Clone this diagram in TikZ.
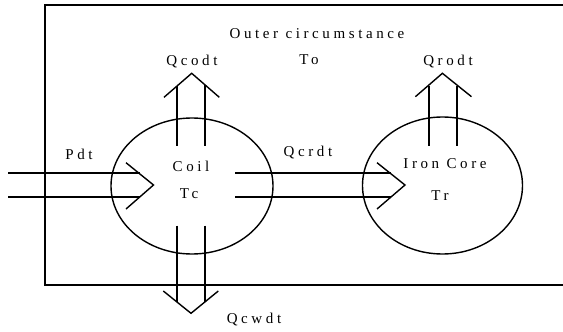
\documentclass[tikz,border=0pt]{standalone}
\usepackage{fontspec}
\setmainfont{Liberation Serif}[LetterSpace=24]
\usetikzlibrary{shapes.geometric}
\begin{document}
\begin{tikzpicture}[x=1pt,y=-1pt,
  ln/.style={line width=1.4pt, line join=miter},
  blob/.style={draw, ellipse, line width=1.4pt, inner sep=0pt},
  lbl/.style={inner sep=0pt, font=\fontsize{15}{17}\selectfont}]
\useasboundingbox[fill=white] (0,0) rectangle (563,332);
% outer box (open to the right)
\draw[ln] (575,5) -- (45,5) -- (45,285) -- (575,285);
% ellipses
\node[blob, minimum width=162pt, minimum height=136pt] (coil) at (192,186) {};
\node[blob, minimum width=160pt, minimum height=137pt] (core) at (442.5,185.5) {};
% labels
\node[lbl] (outer) at (317,34) {Outer circumstance};
\node[lbl] (to) at (309,60) {To};
\node[lbl] (qcodt) at (192,62) {Qcodt};
\node[lbl] (qrodt) at (448,62) {Qrodt};
\node[lbl] (pdt) at (79,154) {Pdt};
\node[lbl] (coiltxt) at (191,166) {Coil};
\node[lbl] (tc) at (189,194) {Tc};
\node[lbl] (qcrdt) at (308,153) {Qcrdt};
\node[lbl] (irontxt) at (445,164) {Iron Core};
\node[lbl] (tr) at (440,196) {Tr};
\node[lbl] (qcwdt) at (254,320) {Qcwdt};
% Pdt arrow
\coordinate (pa1) at (8,173);
\coordinate (pa2) at (8,197);
\draw[ln] (pa1) -- (139.5,173);
\draw[ln] (pa2) -- (139.5,197);
\draw[ln] (126,162.7) -- (153.5,185) -- (126,209);
% Qcrdt arrow
\draw[ln] (235,173) -- (390.5,173);
\draw[ln] (235,197) -- (390.5,197);
\draw[ln] (377,162.7) -- (405,185) -- (377,209);
% Qcodt arrow (up)
\draw[ln] (177,145.5) -- (177,86);
\draw[ln] (205,145.5) -- (205,85);
\draw[ln] (164,97.3) -- (191.7,73.3) -- (219.3,97.3);
% Qrodt arrow (up)
\draw[ln] (429,145.5) -- (429,85.5);
\draw[ln] (457,145.5) -- (457,85.5);
\draw[ln] (415.4,96.7) -- (442.4,73.3) -- (471.5,96.7);
% Qcwdt arrow (down)
\draw[ln] (177,225.5) -- (177,302);
\draw[ln] (205,225.5) -- (205,302);
\draw[ln] (163.3,291) -- (191,313.3) -- (218.3,291);
\end{tikzpicture}
\end{document}
